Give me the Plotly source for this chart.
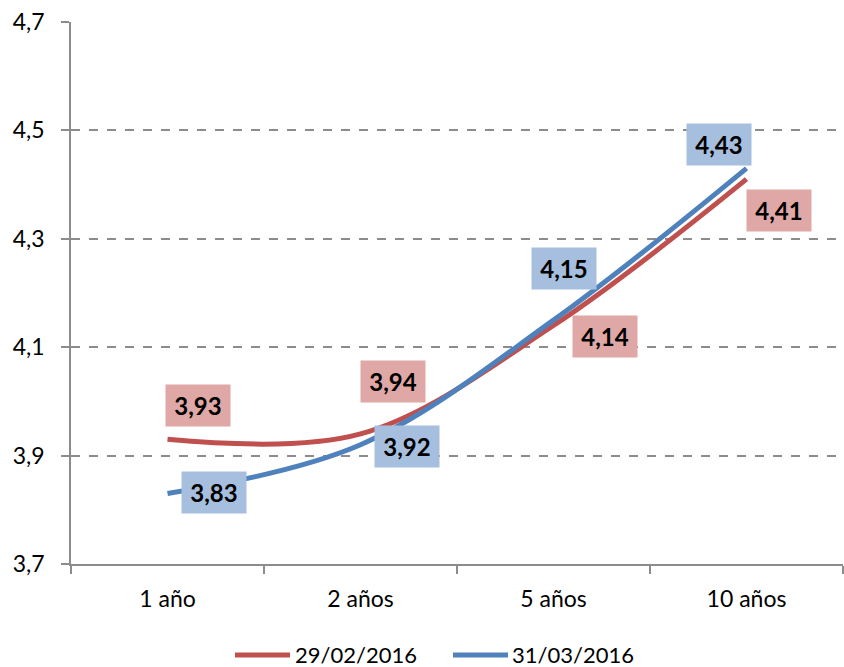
import plotly.graph_objects as go

categories = ["1 año", "2 años", "5 años", "10 años"]
series_names = ["29/02/2016", "31/03/2016"]
values_feb = [3.93, 3.94, 4.14, 4.41]
values_mar = [3.83, 3.92, 4.15, 4.43]
y_ticks = [3.7, 3.9, 4.1, 4.3, 4.5, 4.7]

line_colors = ["#C0504D", "#4F81BD"]
label_bg = ["#DFA7A6", "#A7BFDE"]
# label offsets (px) per point
offsets = [
    [(30, 34), (32, 52), (51, -11), (32, -31)],
    [(46, 1), (46, -2), (10, 52), (-28, 24)],
]

FONT = "Lato, 'Open Sans', sans-serif"
W, H = 844, 667
L, R, T, B = 71, 1, 22, 103
PW, PH = W - L - R, H - T - B


def px_x(px):
    return (px - L) / PW


def px_y(py):
    return (H - B - py) / PH


fig = go.Figure()
for name, vals, col in zip(series_names, [values_feb, values_mar], line_colors):
    fig.add_trace(go.Scatter(
        x=categories, y=vals, name=name, mode="lines",
        line=dict(color=col, width=5, shape="spline", smoothing=1),
        hoverinfo="skip", showlegend=False,
    ))

for s, vals in enumerate([values_feb, values_mar]):
    for i, v in enumerate(vals):
        dx, dy = offsets[s][i]
        fig.add_annotation(
            x=categories[i], y=v, xref="x", yref="y",
            text="<b>" + f"{v:.2f}".replace(".", ",") + "</b>",
            showarrow=False, xshift=dx, yshift=dy,
            bgcolor=label_bg[s], width=64, height=41, borderpad=0,
            font=dict(family=FONT, size=24, color="black"),
        )

# manual legend (bottom, centered)
legend_items = [(235, 290, 294), (453, 508, 511)]
leg_y = 654
for (x0, x1, xt), name, col in zip(legend_items, series_names, line_colors):
    fig.add_shape(type="line", xref="paper", yref="paper",
                  x0=px_x(x0), x1=px_x(x1), y0=px_y(leg_y + 1), y1=px_y(leg_y + 1),
                  line=dict(color=col, width=5))
    fig.add_annotation(x=px_x(xt), y=px_y(leg_y), xref="paper", yref="paper",
                       text=name, showarrow=False, xanchor="left", yanchor="middle",
                       borderpad=0,
                       font=dict(family=FONT, size=22, color="black"))

fig.update_layout(
    width=W, height=H,
    margin=dict(l=L, r=R, t=T, b=B, autoexpand=False),
    plot_bgcolor="white", paper_bgcolor="white",
    font=dict(family=FONT, size=23, color="black"),
    showlegend=False,
    xaxis=dict(
        type="category", range=[-0.5, 3.5], automargin=False,
        showline=True, linecolor="#8C8C8C", linewidth=1.5,
        ticks="outside", tickson="boundaries", ticklen=8, tickcolor="#8C8C8C", tickwidth=1.5,
        showgrid=False, zeroline=False, ticklabelstandoff=14,
        tickfont=dict(family=FONT, size=23, color="black"),
    ),
    yaxis=dict(
        range=[3.7, 4.7], tickvals=y_ticks, automargin=False,
        ticktext=[f"{t:.1f}".replace(".", ",") for t in y_ticks],
        showline=True, linecolor="#8C8C8C", linewidth=1.5,
        ticks="outside", ticklen=8, tickcolor="#8C8C8C", tickwidth=1.5,
        showgrid=True, gridcolor="#8C8C8C", griddash="dash", gridwidth=1.5,
        zeroline=False, ticklabelstandoff=12,
        tickfont=dict(family=FONT, size=23, color="black"),
    ),
)

fig.write_html("out.html", config={"displayModeBar": False},
               post_script="document.body.style.margin='0';document.body.style.overflow='hidden';")
